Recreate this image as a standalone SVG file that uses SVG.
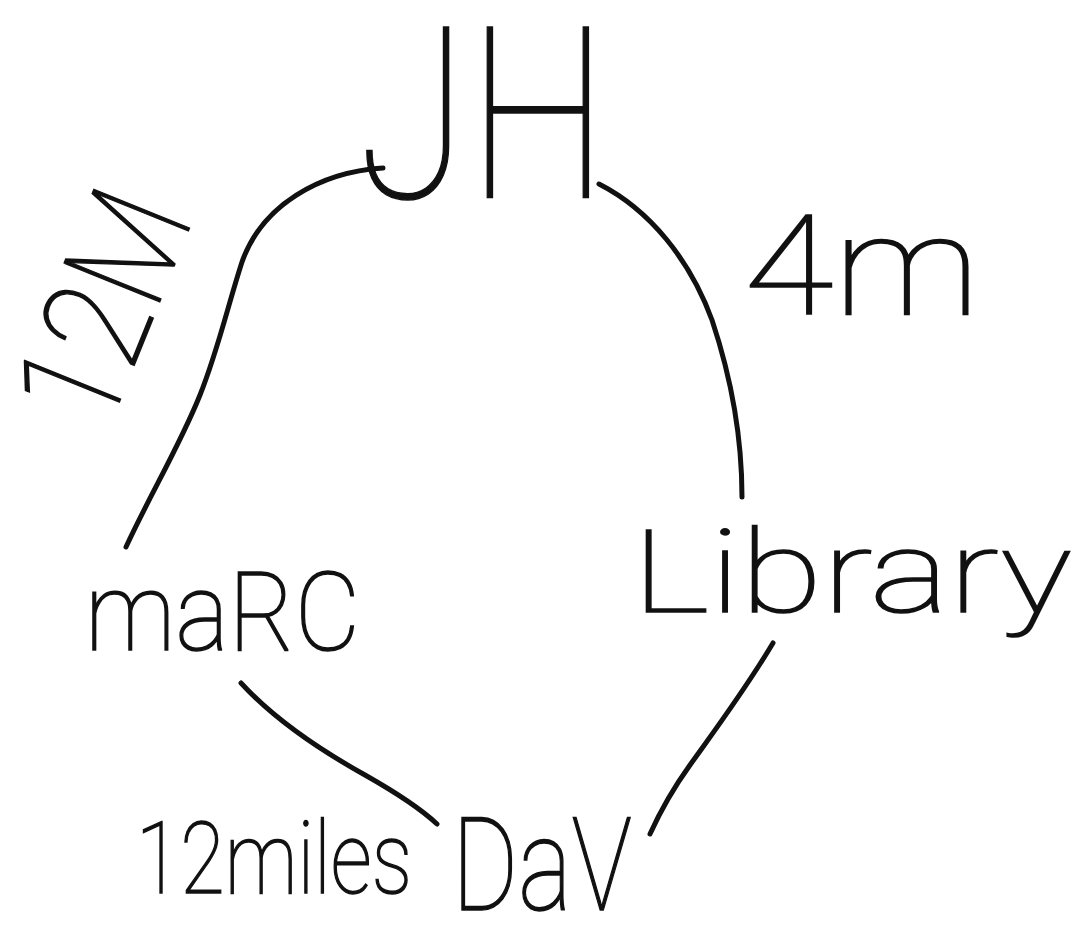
<svg xmlns="http://www.w3.org/2000/svg" width="1076" height="926" viewBox="0 0 1076 926">
<style>
.t{font-family:Roboto,"Liberation Sans",sans-serif;font-weight:100;fill:#111;stroke:#111;stroke-width:1.5;}
.e{fill:none;stroke:#111;stroke-width:5;stroke-linecap:round;stroke-linejoin:round;}
</style>
<rect width="1076" height="926" fill="#fff"/>
<g id="connectors">
<path id="edge-jh-marc" class="e" d="M383,168 C320,172 262,205 242,262 C228,305 218,350 200,395 C180,445 150,495 126,547"/>
<path id="edge-jh-library" class="e" d="M599,184 C650,210 690,260 712,320 C732,380 742,440 742,497"/>
<path id="edge-marc-dav" class="e" d="M241,683 C275,720 320,750 365,775 C395,792 420,808 437,824"/>
<path id="edge-library-dav" class="e" d="M773,643 C745,690 715,730 690,765 C672,790 660,812 650,834"/>
</g>
<g id="node-jh"><text class="t" x="358" y="198" font-size="240" textLength="250" lengthAdjust="spacingAndGlyphs">JH</text></g>
<g id="node-marc"><text class="t" x="85" y="650" font-size="110" textLength="275" lengthAdjust="spacingAndGlyphs">maRC</text></g>
<g id="node-library"><text class="t" x="632" y="612" font-size="115" textLength="440" lengthAdjust="spacingAndGlyphs">Library</text></g>
<g id="node-dav"><text class="t" x="452" y="910" font-size="130" textLength="180" lengthAdjust="spacingAndGlyphs">DaV</text></g>
<g id="edge-labels">
<text class="t" transform="translate(150,326) rotate(-68)" text-anchor="middle" font-size="145" textLength="235" lengthAdjust="spacingAndGlyphs">12M</text>
<text class="t" x="744" y="314" font-size="140" textLength="236" lengthAdjust="spacingAndGlyphs">4m</text>
<text class="t" x="136" y="893" font-size="100" textLength="276" lengthAdjust="spacingAndGlyphs">12miles</text>
</g>
</svg>
